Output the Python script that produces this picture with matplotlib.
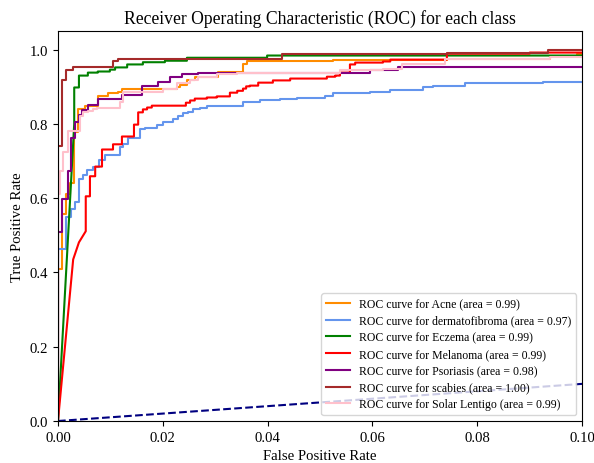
import matplotlib
matplotlib.use('Agg')
import matplotlib.pyplot as plt
import numpy as np

plt.rcParams['font.family'] = ['Liberation Serif', 'DejaVu Serif']
plt.rcParams['font.size'] = 10.6

classes = ['Acne', 'dermatofibroma', 'Eczema', 'Melanoma', 'Psoriasis', 'scabies', 'Solar Lentigo']
areas = [0.99, 0.97, 0.99, 0.99, 0.98, 1.00, 0.99]
colors = ['darkorange', 'cornflowerblue', 'green', 'red', 'purple', 'brown', 'pink']

# ROC knots per class (false positive rate, true positive rate)
fpr_acne = [0, 0, 0.0008, 0.0015, 0.0023, 0.0031, 0.0038, 0.0052, 0.0076, 0.0095, 0.0115, 0.0122,
            0.0227, 0.0233, 0.0246, 0.0261, 0.0305, 0.0353, 0.0361, 0.0525, 0.0742, 0.0939, 0.0990, 1.0]
tpr_acne = [0, 0.409, 0.556, 0.610, 0.642, 0.777, 0.839, 0.847, 0.874, 0.882, 0.887, 0.895,
            0.898, 0.906, 0.919, 0.925, 0.941, 0.960, 0.968, 0.971, 0.976, 0.984, 0.989, 1.0]

fpr_derm = [0, 0, 0.0015, 0.0025, 0.0032, 0.0040, 0.0048, 0.0055, 0.0067, 0.0078, 0.0090, 0.0118,
            0.0124, 0.0134, 0.0156, 0.0166, 0.0189, 0.0200, 0.0219, 0.0229, 0.0239, 0.0248, 0.0258,
            0.0271, 0.0284, 0.0353, 0.0376, 0.0385, 0.0424, 0.0456, 0.0510, 0.0525, 0.0595, 0.0634,
            0.0697, 0.0716, 0.0760, 0.0777, 0.0784, 0.0926, 1.0]
tpr_derm = [0, 0.462, 0.548, 0.570, 0.589, 0.651, 0.661, 0.675, 0.683, 0.704, 0.715, 0.737,
            0.745, 0.763, 0.785, 0.790, 0.796, 0.804, 0.812, 0.820, 0.828, 0.833, 0.839,
            0.844, 0.847, 0.858, 0.860, 0.863, 0.868, 0.871, 0.874, 0.884, 0.887, 0.892,
            0.898, 0.901, 0.903, 0.909, 0.911, 0.914, 1.0]

fpr_eczema = [0, 0.0031, 0.0031, 0.0040, 0.0057, 0.0076, 0.0099, 0.0109, 0.0132, 0.0162, 0.0204,
              0.0246, 0.0399, 1.0]
tpr_eczema = [0, 0.80, 0.898, 0.930, 0.938, 0.941, 0.946, 0.952, 0.960, 0.966, 0.970,
              0.978, 0.984, 1.0]

fpr_mel = [0, 0.0029, 0.0040, 0.0053, 0.0053, 0.0061, 0.0071, 0.0084, 0.0105, 0.0122, 0.0145,
           0.0153, 0.0162, 0.0170, 0.0179, 0.0244, 0.0252, 0.0261, 0.0284, 0.0303, 0.0328, 0.0342,
           0.0353, 0.0359, 0.0366, 0.0382, 0.0410, 0.0443, 0.0513, 0.0529, 0.0538, 0.0557, 0.0567,
           0.0620, 0.0634, 0.0742, 0.0900, 1.0]
tpr_mel = [0, 0.435, 0.481, 0.511, 0.605, 0.659, 0.685, 0.731, 0.745, 0.766, 0.798,
           0.831, 0.839, 0.844, 0.849, 0.857, 0.863, 0.868, 0.871, 0.874, 0.884, 0.889,
           0.895, 0.901, 0.903, 0.911, 0.917, 0.922, 0.927, 0.930, 0.938, 0.960, 0.965,
           0.968, 0.973, 0.989, 0.992, 1.0]

fpr_psor = [0, 0, 0.0008, 0.0019, 0.0025, 0.0032, 0.0040, 0.0046, 0.0057, 0.0076, 0.0122, 0.0160,
            0.0191, 0.0214, 0.0237, 0.0267, 0.0595, 0.0649, 1.0]
tpr_psor = [0, 0.508, 0.597, 0.672, 0.763, 0.806, 0.825, 0.838, 0.852, 0.866, 0.879, 0.903,
            0.914, 0.927, 0.933, 0.938, 0.946, 0.952, 1.0]

fpr_scab = [0, 0, 0.0008, 0.0015, 0.0029, 0.0105, 0.0115, 0.0427, 0.0742, 0.0935, 1.0]
tpr_scab = [0, 0.74, 0.919, 0.944, 0.954, 0.968, 0.976, 0.987, 0.990, 1.0, 1.0]

fpr_solar = [0, 0, 0.0004, 0.0010, 0.0019, 0.0042, 0.0048, 0.0057, 0.0067, 0.0074, 0.0118, 0.0124,
             0.0200, 0.0227, 0.0252, 0.0267, 0.0303, 0.0328, 0.0342, 0.0538, 0.0620, 0.0656,
             0.0739, 0.0939, 1.0]
tpr_solar = [0, 0.610, 0.672, 0.723, 0.780, 0.820, 0.831, 0.836, 0.839, 0.844, 0.860, 0.887,
             0.895, 0.911, 0.919, 0.925, 0.933, 0.935, 0.938, 0.944, 0.949, 0.962,
             0.976, 0.981, 1.0]

fprs = [fpr_acne, fpr_derm, fpr_eczema, fpr_mel, fpr_psor, fpr_scab, fpr_solar]
tprs = [tpr_acne, tpr_derm, tpr_eczema, tpr_mel, tpr_psor, tpr_scab, tpr_solar]
# how many leading points are joined directly (no staircase)
leads = [1, 1, 2, 4, 1, 1, 1]


def roc_points(f, t, lead=1):
    xs, ys = list(f[:lead]), list(t[:lead])
    for fi, ti in zip(f[lead:], t[lead:]):
        xs += [fi, fi]
        ys += [ys[-1], ti]
    return np.array(xs), np.array(ys)


fig = plt.figure(figsize=(5.94, 4.64), dpi=100)
ax = fig.add_axes([0.0976, 0.0905, 0.8824, 0.8405])

for name, area, c, f, t, n in zip(classes, areas, colors, fprs, tprs, leads):
    x, y = roc_points(f, t, n)
    ax.plot(x, y, color=c, lw=1.5, label='ROC curve for %s (area = %0.2f)' % (name, area))

ax.plot([0, 1], [0, 1], color='navy', lw=1.5, linestyle='--')
ax.set_xlim([0.0, 0.1])
ax.set_ylim([0.0, 1.05])
ax.set_xlabel('False Positive Rate')
ax.set_ylabel('True Positive Rate')
ax.set_title('Receiver Operating Characteristic (ROC) for each class', fontsize=12.7)
ax.xaxis.set_major_formatter(matplotlib.ticker.FormatStrFormatter('%.2f'))
ax.legend(loc='lower right', fontsize=8.5, labelspacing=0.4)
fig.savefig('out.png', dpi=100)
